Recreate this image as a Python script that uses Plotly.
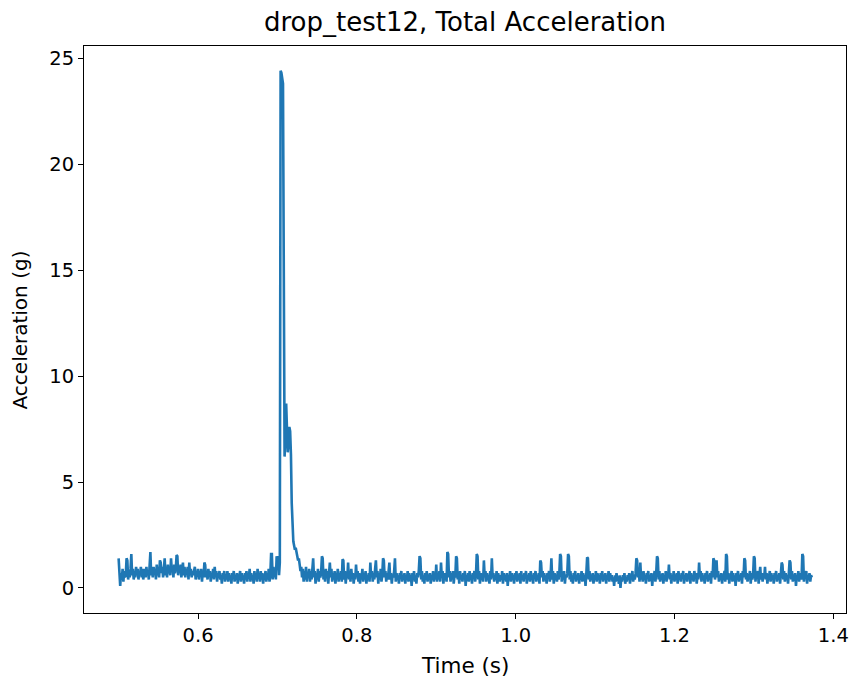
import numpy as np
import plotly.graph_objects as go

# sample clock of the logger
t_start = 0.500
dt = 0.001

# total acceleration (g), one value per sample
accel = [
    1.4, 0.5, 0.1, 0.7, 0.4, 0.9, 0.3, 0.8, 0.5, 0.6, 1.4, 1.3, 0.4, 0.8, 0.5, 0.9, 1.6, 0.6, 0.9, 0.4,
    0.8, 0.5, 1.0, 0.6, 0.9, 0.4, 0.8, 0.6, 1.0, 0.5, 0.9, 0.4, 0.7, 0.9, 0.5, 1.0, 0.6, 0.8, 0.4, 0.9,
    1.7, 0.6, 0.9, 0.5, 1.0, 0.7, 0.9, 0.4, 1.1, 0.6, 0.8, 0.5, 1.3, 1.2, 0.7, 1.0, 0.5, 0.9, 1.4, 0.6,
    1.0, 0.5, 1.1, 0.7, 0.9, 0.6, 1.4, 0.8, 1.0, 0.5, 1.1, 0.7, 0.9, 1.55, 1.5, 0.6, 1.0, 0.7, 1.1, 0.5,
    0.9, 1.2, 0.6, 1.0, 0.5, 0.9, 0.7, 1.0, 0.4, 1.2, 0.6, 0.9, 0.5, 0.8, 0.6, 0.9, 1.0, 0.4, 0.8, 0.6,
    0.9, 0.4, 0.8, 0.6, 0.9, 0.3, 0.8, 0.5, 1.2, 1.1, 0.5, 0.8, 0.4, 0.9, 0.6, 0.8, 0.3, 0.7, 0.5, 0.9,
    0.4, 1.0, 0.5, 0.8, 0.3, 0.7, 0.5, 0.8, 0.4, 0.6, 0.2, 0.7, 0.5, 0.8, 0.3, 0.6, 0.4, 0.8, 0.3, 0.7,
    0.4, 0.6, 0.2, 0.7, 0.5, 0.8, 0.3, 0.6, 0.4, 0.7, 0.2, 0.6, 0.5, 0.8, 0.3, 0.7, 0.4, 0.6, 0.2, 0.7,
    0.4, 0.8, 0.3, 0.6, 0.5, 0.9, 0.3, 0.7, 0.4, 0.6, 0.2, 0.8, 0.4, 0.7, 0.3, 0.9, 0.5, 0.6, 0.3, 0.8,
    0.4, 0.7, 0.2, 0.6, 0.5, 0.8, 0.3, 0.7, 0.4, 0.9, 0.3, 0.6, 1.6, 1.6, 0.4, 1.0, 0.5, 0.9, 0.4, 1.5,
    0.9, 1.5, 0.6, 1.2, 24.4, 24.3, 23.9, 23.8, 15.0, 6.2, 7.0, 8.7, 7.5, 6.4, 6.8, 7.6, 7.4, 6.3, 4.0, 2.6,
    2.2, 2.0, 1.8, 1.9, 1.6, 1.5, 1.3, 1.4, 1.1, 0.8, 1.0, 0.5, 0.9, 0.3, 0.8, 0.4, 1.0, 0.3, 0.7, 0.5,
    0.9, 0.3, 0.8, 0.4, 0.9, 1.4, 0.5, 0.8, 0.2, 0.7, 0.4, 0.9, 0.3, 0.8, 0.5, 0.7, 1.5, 1.4, 0.4, 0.8,
    0.3, 0.9, 0.5, 0.8, 0.2, 0.7, 1.2, 0.5, 0.9, 0.3, 0.7, 0.4, 0.8, 0.2, 0.6, 0.5, 0.9, 0.3, 0.7, 0.4,
    0.8, 0.3, 1.35, 1.3, 0.4, 0.8, 0.2, 0.7, 0.5, 1.2, 0.4, 0.8, 0.3, 0.9, 0.5, 0.7, 0.2, 0.6, 0.4, 1.1,
    0.5, 0.8, 0.3, 0.7, 0.2, 0.6, 0.5, 0.9, 0.3, 0.7, 0.4, 0.8, 0.2, 0.6, 0.4, 0.7, 0.3, 1.2, 0.5, 0.8,
    0.3, 0.7, 0.4, 0.9, 1.3, 0.5, 0.8, 0.2, 0.7, 0.4, 0.9, 0.3, 0.6, 1.4, 1.3, 0.5, 0.8, 0.3, 0.7, 0.4,
    0.8, 1.2, 0.4, 0.7, 0.2, 0.6, 0.5, 0.8, 1.4, 0.3, 0.7, 0.4, 0.6, 0.2, 0.7, 0.5, 0.8, 0.3, 0.6, 0.4,
    0.7, 0.2, 0.6, 0.4, 0.8, 0.3, 0.7, 0.5, 0.6, 0.1, 0.7, 0.4, 0.8, 0.3, 0.6, 0.2, 0.7, 0.5, 0.8, 1.5,
    1.4, 0.4, 0.8, 0.3, 0.6, 0.2, 0.7, 0.4, 0.8, 0.3, 0.6, 0.5, 0.7, 0.2, 0.6, 0.4, 0.8, 0.3, 0.7, 0.4,
    1.1, 0.3, 0.7, 0.4, 0.8, 0.3, 1.2, 0.5, 0.8, 0.2, 0.7, 0.4, 0.6, 0.3, 1.7, 1.6, 0.5, 0.8, 0.3, 0.7,
    0.4, 0.8, 0.2, 0.6, 0.5, 1.5, 1.4, 0.4, 0.7, 0.2, 0.8, 0.4, 0.6, 0.3, 0.7, 0.5, 0.8, 0.1, 0.6, 0.4,
    0.7, 0.3, 0.8, 0.4, 0.6, 0.2, 0.7, 0.5, 0.8, 0.3, 0.6, 1.6, 1.5, 0.4, 0.8, 0.2, 0.7, 0.4, 0.6, 0.3,
    1.3, 0.5, 0.8, 0.3, 0.7, 0.4, 0.6, 0.2, 0.8, 0.4, 1.4, 0.5, 0.7, 0.3, 0.6, 0.4, 0.8, 0.2, 0.7, 0.5,
    0.3, 0.6, 0.4, 0.8, 0.2, 0.7, 0.5, 0.6, 0.3, 0.7, 0.1, 0.6, 0.4, 0.8, 0.3, 0.7, 0.5, 0.6, 0.2, 0.7,
    0.4, 0.8, 0.3, 0.6, 0.5, 0.7, 0.2, 0.8, 0.4, 0.6, 0.3, 0.7, 0.5, 0.8, 0.2, 0.6, 0.4, 0.7, 0.3, 0.8,
    0.4, 0.6, 0.2, 0.7, 0.5, 0.8, 0.3, 0.6, 0.4, 0.7, 0.2, 1.3, 1.2, 0.5, 0.8, 0.3, 0.7, 0.4, 0.6, 0.2,
    0.7, 0.5, 0.8, 0.3, 0.6, 1.4, 0.4, 0.8, 0.2, 0.7, 0.5, 0.6, 0.3, 0.8, 0.4, 0.7, 1.6, 1.5, 0.3, 0.7,
    0.4, 0.8, 0.2, 0.6, 0.5, 0.7, 1.6, 1.5, 0.4, 0.8, 0.3, 0.6, 0.2, 0.7, 0.5, 0.8, 0.3, 0.6, 0.4, 0.7,
    0.2, 0.6, 0.4, 0.8, 0.3, 0.7, 0.5, 0.6, 0.1, 0.7, 1.45, 1.4, 0.4, 0.8, 0.3, 0.6, 0.5, 0.7, 0.2, 0.6,
    0.4, 0.8, 0.3, 0.7, 0.5, 0.6, 0.2, 0.7, 0.4, 0.8, 0.3, 0.6, 0.5, 0.7, 0.2, 0.6, 0.4, 0.8, 0.3, 0.7,
    0.4, 0.6, 0.3, 0.5, 0.1, 0.6, 0.3, 0.7, 0.4, 0.5, 0.2, 0.6, 0.0, 0.5, 0.3, 0.6, 0.4, 0.7, 0.2, 0.5,
    0.3, 0.6, 0.4, 0.7, 0.2, 0.6, 0.5, 0.8, 0.3, 0.6, 0.4, 0.7, 1.4, 1.3, 0.5, 0.8, 0.3, 1.2, 0.4, 0.7,
    0.3, 0.8, 0.4, 0.6, 0.2, 0.7, 0.5, 0.8, 0.3, 0.6, 0.4, 0.7, 0.1, 0.6, 0.5, 0.8, 0.3, 0.7, 1.5, 1.4,
    0.4, 0.8, 0.3, 0.6, 0.5, 0.7, 0.2, 0.6, 0.4, 0.8, 0.3, 0.7, 0.5, 1.1, 0.4, 0.7, 0.2, 0.6, 0.4, 0.8,
    0.3, 0.6, 0.5, 0.7, 0.2, 0.8, 0.4, 0.6, 0.3, 0.7, 0.5, 0.8, 0.2, 0.6, 0.4, 0.7, 0.3, 0.6, 0.5, 0.8,
    0.2, 0.7, 0.4, 0.6, 0.3, 0.8, 0.5, 0.7, 0.2, 0.6, 0.4, 1.2, 0.5, 0.8, 0.3, 0.7, 0.4, 0.6, 0.2, 0.7,
    0.5, 0.8, 0.3, 0.6, 0.4, 0.7, 0.2, 0.8, 0.5, 1.4, 1.3, 0.4, 0.7, 1.3, 0.5, 0.8, 0.3, 0.6, 0.4, 0.7,
    0.2, 0.6, 0.5, 0.8, 0.3, 1.6, 1.5, 0.4, 0.7, 0.2, 0.6, 0.5, 0.8, 0.3, 0.7, 0.4, 0.6, 0.1, 0.7, 0.5,
    0.8, 0.3, 0.6, 0.4, 0.7, 0.2, 0.8, 0.5, 1.4, 1.3, 0.4, 0.7, 0.3, 0.6, 0.5, 0.8, 0.2, 0.7, 0.4, 0.6,
    1.5, 1.4, 0.3, 0.7, 0.5, 0.8, 0.2, 0.6, 1.0, 0.4, 0.7, 0.3, 0.6, 0.5, 1.0, 0.4, 0.7, 0.2, 0.6, 0.5,
    0.8, 0.3, 0.7, 0.4, 0.6, 0.2, 0.7, 0.5, 0.8, 0.3, 0.6, 0.4, 0.7, 0.2, 0.6, 1.2, 1.1, 0.4, 0.8, 0.3,
    0.7, 0.5, 0.6, 0.2, 0.7, 1.3, 1.2, 0.4, 0.8, 0.3, 0.6, 0.5, 0.7, 0.1, 0.6, 0.4, 0.8, 0.3, 0.7, 0.5,
    0.4, 1.6, 1.5, 0.3, 0.7, 0.5, 0.8, 0.2, 0.6, 0.4, 0.7, 0.3, 0.6, 0.5,
]
times = t_start + dt * np.arange(len(accel))

x_ticks = [0.6, 0.8, 1.0, 1.2, 1.4]
y_ticks = [0, 5, 10, 15, 20, 25]

font = "DejaVu Sans"
W, H = 851, 681

fig = go.Figure()
fig.add_trace(go.Scatter(x=times, y=accel, mode="lines",
                         line=dict(color="#1f77b4", width=2.6)))

axis_common = dict(showline=True, linecolor="black", linewidth=1, mirror=True,
                   ticks="outside", ticklen=5, tickcolor="black", tickwidth=1,
                   showgrid=False, zeroline=False, automargin=False,
                   tickfont=dict(family=font, size=19.5, color="black"))

fig.update_layout(
    width=W, height=H,
    margin=dict(l=84, r=5, t=46, b=68),
    plot_bgcolor="white", paper_bgcolor="white",
    showlegend=False,
    title=dict(text="drop_test12, Total Acceleration", x=0.5, xref="paper",
               y=1 - 22 / H, yref="container", xanchor="center", yanchor="middle",
               font=dict(family=font, size=26, color="black")),
    xaxis=dict(range=[0.4564, 1.416], tickvals=x_ticks, tickformat=".1f", **axis_common),
    yaxis=dict(range=[-1.18, 25.57], tickvals=y_ticks, **axis_common),
)

fig.add_annotation(text="Time (s)", xref="paper", yref="paper", x=0.5, y=-0.092,
                   xanchor="center", yanchor="middle", showarrow=False,
                   font=dict(family=font, size=21.5, color="black"))
fig.add_annotation(text="Acceleration (g)", xref="paper", yref="paper", x=-0.084, y=0.5,
                   xanchor="center", yanchor="middle", textangle=-90, showarrow=False,
                   font=dict(family=font, size=20, color="black"))

# drop the default page margin so the figure fills the window exactly
fig.write_html("out.html", config={"displayModeBar": False},
               post_script="document.body.style.margin='0';document.body.style.overflow='hidden';")
